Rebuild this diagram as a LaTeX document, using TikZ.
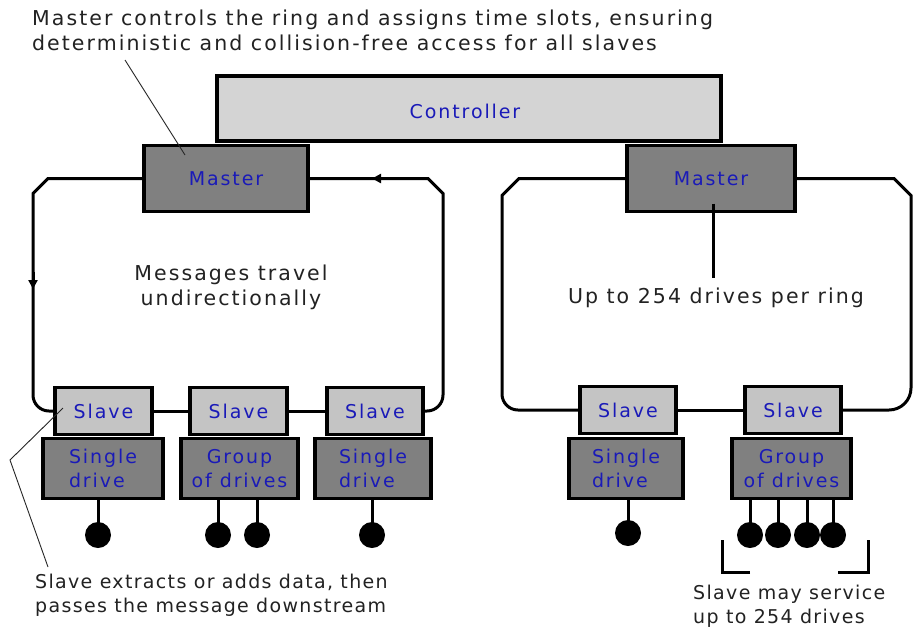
\documentclass[tikz,border=0pt]{standalone}
\usepackage{fontspec}
\usetikzlibrary{arrows.meta,calc}
\newfontfamily\boxfont{DejaVu Sans}[LetterSpace=10]
\newfontfamily\notefont{DejaVu Sans}[LetterSpace=7]
\newfontfamily\topfont{DejaVu Sans}[LetterSpace=10]
\definecolor{ctrlgray}{HTML}{D4D4D4}
\definecolor{darkbox}{HTML}{808080}
\definecolor{slavegray}{HTML}{C4C4C4}
\definecolor{lblblue}{HTML}{1A1AB8}
\definecolor{notetext}{HTML}{222222}
\tikzset{
  box/.style={draw=black, line width=3.5pt, inner sep=0pt, align=center,
    text=lblblue, font=\boxfont\fontsize{19}{24}\selectfont},
  ctrlbox/.style={box, fill=ctrlgray, minimum width=504, minimum height=65},
  masterbox/.style={box, fill=darkbox, minimum height=66},
  slavebox/.style={box, fill=slavegray, minimum height=47, minimum width=97},
  drivebox/.style={box, fill=darkbox, minimum height=60},
  ring/.style={draw=black, line width=3pt},
  stem/.style={draw=black, line width=3pt},
  drivedot/.style={circle, fill=black, minimum size=26, inner sep=0pt},
  leader/.style={draw=black!85, line width=0.9pt},
  note/.style={text=notetext, align=left, inner sep=0pt,
    font=\notefont\fontsize{19}{24}\selectfont},
  bignote/.style={note, font=\topfont\fontsize{20.5}{25}\selectfont},
  ringarrow/.style={-{Triangle[length=9pt,width=9pt]}, line width=3pt},
}
\begin{document}
\begin{tikzpicture}[x=1pt,y=-1pt]
\useasboundingbox (0,0) rectangle (913,630);
\fill[white] (0,0) rectangle (913,630);

% controller and masters
\node[ctrlbox] (ctrl) at (469,108.5) {};
\node[text=lblblue, font=\boxfont\fontsize{19}{24}\selectfont] (ctrlt) at (465,111) {Controller};
\node[masterbox, minimum width=164] (mL) at (226,178.5) {Master};
\node[masterbox, minimum width=168] (mR) at (711,178.5) {Master};

% left slaves and drives
\node[slavebox] (s1) at (103.5,411) {Slave};
\node[slavebox, minimum width=97] (s2) at (238.5,411) {Slave};
\node[slavebox, minimum width=96] (s3) at (375,411) {Slave};
\node[drivebox, minimum width=120, align=left] (dL1) at (103,468.5) {Single\\drive};
\node[drivebox, minimum width=117] (dL2) at (239.5,468.5) {Group\\of drives};
\node[drivebox, minimum width=116, align=left] (dL3) at (373,468.5) {Single\\drive};

% right slaves and drives
\node[slavebox, minimum width=96] (rs1) at (628,410) {Slave};
\node[slavebox, minimum width=96] (rs2) at (793,410) {Slave};
\node[drivebox, minimum width=114, align=left] (rd1) at (626,468.5) {Single\\drive};
\node[drivebox, minimum width=119] (rd2) at (791.5,468.5) {Group\\of drives};

% left ring
\draw[ring] (mL.west) -- (48,178.5) -- (33,193.5) [rounded corners=16] -- (33,411) -- (s1.west);
\draw[ring] (mL.east) -- (428,178.5) -- (443,193.5) [rounded corners=16] -- (443,411) -- (s3.east);
\draw[ring] (s1.east) -- (s2.west);
\draw[ring] (s2.east) -- (s3.west);
\coordinate (aL1) at (33,272);
\coordinate (aL2) at (33,289);
\draw[ringarrow] (aL1) -- (aL2);
\coordinate (aT1) at (392,178.5);
\coordinate (aT2) at (372,178.5);
\draw[ringarrow] (aT1) -- (aT2);

% right ring
\draw[ring] (mR.west) -- (519,178.5) -- (502,195.5) [rounded corners=16] -- (502,410) -- (rs1.west);
\draw[ring] (mR.east) -- (894,178.5) -- (911,195.5) [rounded corners=22] -- (911,410) -- (rs2.east);
\draw[ring] (rs1.east) -- (rs2.west);

% drive dots
\node[drivedot] (p1) at (98,535) {};
\node[drivedot] (p2) at (218,535) {};
\node[drivedot] (p3) at (257,535) {};
\node[drivedot] (p4) at (372,535) {};
\node[drivedot] (q1) at (628,533) {};
\node[drivedot] (q2) at (750,535) {};
\node[drivedot] (q3) at (778,535) {};
\node[drivedot] (q4) at (807,535) {};
\node[drivedot] (q5) at (833,535) {};
\foreach \d/\b in {p1/dL1,p2/dL2,p3/dL2,p4/dL3,q1/rd1,q2/rd2,q3/rd2,q4/rd2,q5/rd2}
  \draw[stem] (\d.center) -- (\d.center |- \b.south);

% brackets
\coordinate (bl1) at (750,572);
\coordinate (bl2) at (722,540);
\draw[ring] (bl1) -| (bl2);
\coordinate (br1) at (838,572);
\coordinate (br2) at (868,540);
\draw[ring] (br1) -| (br2);

% texts
\node[bignote, anchor=west] (topnote) at (32,30)
  {Master controls the ring and assigns time slots, ensuring\\deterministic and collision-free access for all slaves};
\node[bignote, align=center] (msg) at (231,287) {Messages travel\\undirectionally};
\node[bignote] (ring254) at (716,298) {Up to 254 drives per ring};
\node[note, anchor=west] (slnote) at (35,595) {Slave extracts or adds data, then\\passes the message downstream};
\node[note, anchor=west] (svnote) at (693,606) {Slave may service\\up to 254 drives};

% leaders
\coordinate (tl1) at (125,60);
\coordinate (tl2) at (185,155);
\draw[leader] (tl1) -- (tl2);
\coordinate (sl1) at (63,408);
\coordinate (sl2) at (10,460);
\coordinate (sl3) at (48,567);
\draw[leader] (sl1) -- (sl2) -- (sl3);
\coordinate (mst) at ($(mR.center)+(2,25)$);
\coordinate (mst2) at (mst |- 0,278);
\draw[stem] (mst) -- (mst2);
\end{tikzpicture}
\end{document}
